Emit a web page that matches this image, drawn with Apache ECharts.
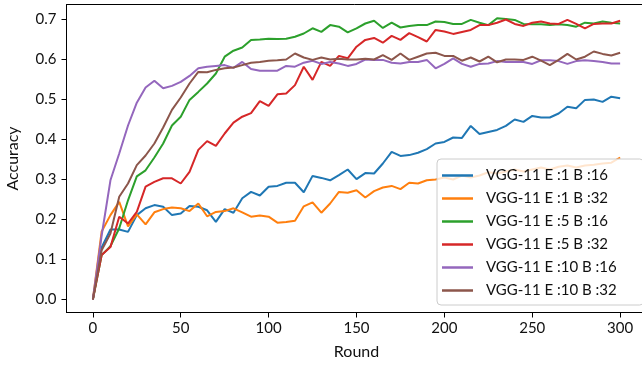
<!DOCTYPE html>
<html>
<head>
<meta charset="utf-8">
<script src="https://cdn.jsdelivr.net/npm/echarts@6/dist/echarts.min.js"></script>
<style>
html,body{margin:0;padding:0;background:#fff;}
#chart{width:642px;height:367px;}
</style>
</head>
<body>
<div id="chart"></div>
<script>
const rounds = [];
for (let r = 0; r <= 300; r += 5) rounds.push(r);

const xTicks = [0, 50, 100, 150, 200, 250, 300];
const yTicks = [0, 0.1, 0.2, 0.3, 0.4, 0.5, 0.6, 0.7];

const seriesNames = [
  'VGG-11 E :1 B :16', 'VGG-11 E :1 B :32', 'VGG-11 E :5 B :16',
  'VGG-11 E :5 B :32', 'VGG-11 E :10 B :16', 'VGG-11 E :10 B :32'
];
const colors = ['#1f77b4', '#ff7f0e', '#2ca02c', '#d62728', '#9467bd', '#8c564b'];

const e1b16 = [0, 0.13, 0.175, 0.175, 0.169, 0.211, 0.228, 0.236, 0.232, 0.211,
  0.215, 0.234, 0.232, 0.223, 0.194, 0.226, 0.217, 0.253, 0.269, 0.26,
  0.282, 0.284, 0.292, 0.292, 0.268, 0.309, 0.304, 0.298, 0.311, 0.325,
  0.301, 0.316, 0.315, 0.34, 0.369, 0.359, 0.361, 0.367, 0.376, 0.39,
  0.394, 0.405, 0.404, 0.434, 0.414, 0.419, 0.424, 0.434, 0.45, 0.444,
  0.459, 0.455, 0.455, 0.465, 0.482, 0.478, 0.499, 0.5, 0.494, 0.507, 0.503];

const e1b32 = [0, 0.17, 0.211, 0.244, 0.183, 0.213, 0.188, 0.218, 0.226, 0.23,
  0.228, 0.221, 0.24, 0.208, 0.219, 0.221, 0.228, 0.218, 0.207, 0.21,
  0.207, 0.192, 0.194, 0.197, 0.233, 0.243, 0.217, 0.24, 0.269, 0.267,
  0.273, 0.255, 0.271, 0.28, 0.284, 0.276, 0.292, 0.29, 0.298, 0.3,
  0.305, 0.3, 0.31, 0.305, 0.31, 0.318, 0.315, 0.32, 0.325, 0.32,
  0.325, 0.33, 0.325, 0.332, 0.335, 0.33, 0.335, 0.337, 0.34, 0.342, 0.355];

const e5b16 = [0, 0.111, 0.133, 0.178, 0.248, 0.308, 0.323, 0.355, 0.39, 0.435,
  0.457, 0.499, 0.519, 0.54, 0.565, 0.607, 0.622, 0.63, 0.649, 0.65,
  0.652, 0.651, 0.652, 0.657, 0.665, 0.678, 0.669, 0.686, 0.682, 0.668,
  0.678, 0.69, 0.697, 0.679, 0.692, 0.68, 0.684, 0.686, 0.686, 0.695,
  0.694, 0.689, 0.689, 0.699, 0.692, 0.686, 0.703, 0.701, 0.699, 0.689,
  0.688, 0.688, 0.686, 0.688, 0.686, 0.682, 0.692, 0.69, 0.695, 0.692, 0.69];

const e5b32 = [0, 0.111, 0.131, 0.207, 0.19, 0.219, 0.282, 0.294, 0.303, 0.303,
  0.29, 0.319, 0.374, 0.396, 0.384, 0.415, 0.442, 0.457, 0.466, 0.496,
  0.484, 0.513, 0.515, 0.536, 0.582, 0.549, 0.594, 0.584, 0.609, 0.603,
  0.632, 0.649, 0.654, 0.642, 0.659, 0.649, 0.666, 0.656, 0.645, 0.674,
  0.67, 0.664, 0.669, 0.674, 0.686, 0.686, 0.692, 0.7, 0.689, 0.684,
  0.692, 0.695, 0.69, 0.689, 0.699, 0.689, 0.678, 0.689, 0.69, 0.69, 0.697];

const e10b16 = [0, 0.16, 0.298, 0.365, 0.435, 0.492, 0.53, 0.547, 0.528, 0.534,
  0.544, 0.559, 0.578, 0.582, 0.584, 0.586, 0.579, 0.594, 0.576, 0.572,
  0.572, 0.572, 0.584, 0.582, 0.592, 0.597, 0.589, 0.594, 0.59, 0.584,
  0.589, 0.6, 0.599, 0.599, 0.592, 0.59, 0.594, 0.594, 0.599, 0.578,
  0.589, 0.603, 0.589, 0.582, 0.589, 0.59, 0.596, 0.594, 0.594, 0.594,
  0.589, 0.598, 0.598, 0.596, 0.589, 0.596, 0.598, 0.596, 0.594, 0.59, 0.59];

const e10b32 = [0, 0.123, 0.165, 0.257, 0.29, 0.336, 0.36, 0.39, 0.43, 0.474,
  0.505, 0.54, 0.569, 0.568, 0.574, 0.578, 0.58, 0.586, 0.592, 0.594,
  0.597, 0.598, 0.6, 0.615, 0.605, 0.599, 0.605, 0.6, 0.602, 0.6,
  0.6, 0.602, 0.6, 0.611, 0.599, 0.615, 0.599, 0.607, 0.615, 0.617,
  0.609, 0.609, 0.597, 0.605, 0.595, 0.607, 0.593, 0.6, 0.6, 0.599,
  0.607, 0.597, 0.586, 0.599, 0.614, 0.6, 0.607, 0.62, 0.614, 0.61, 0.617];

const allData = [e1b16, e1b32, e5b16, e5b32, e10b16, e10b32];

const FONT = 'Lato';
const chart = echarts.init(document.getElementById('chart'), null, {renderer: 'canvas'});

const series = allData.map((d, i) => ({
  name: seriesNames[i],
  type: 'line',
  data: d.map((v, j) => [rounds[j], v]),
  showSymbol: false,
  symbol: 'none',
  lineStyle: {color: colors[i], width: 2},
  itemStyle: {color: colors[i]},
  z: 2 + i,
  animation: false
}));

chart.setOption({
  animation: false,
  backgroundColor: '#fff',
  grid: {
    left: 66.5, top: 4.5, width: 580, height: 308,
    outerBoundsMode: 'none', containLabel: false,
    show: true, borderColor: '#000', borderWidth: 1, backgroundColor: 'transparent'
  },
  xAxis: {
    type: 'value', min: -15, max: 315,
    name: 'Round', nameLocation: 'middle', nameGap: 31,
    nameTextStyle: {fontFamily: FONT, fontSize: 16, color: '#111'},
    axisLine: {show: true, onZero: false, lineStyle: {color: '#000', width: 1}},
    axisTick: {show: true, length: 5, customValues: xTicks, lineStyle: {color: '#000'}},
    axisLabel: {customValues: xTicks, margin: 8, fontFamily: FONT, fontSize: 15, color: '#111'},
    splitLine: {show: false}
  },
  yAxis: {
    type: 'value', min: -0.0325, max: 0.7375,
    name: 'Accuracy', nameLocation: 'middle', nameGap: 46,
    nameTextStyle: {fontFamily: FONT, fontSize: 16, color: '#111'},
    axisLine: {show: true, onZero: false, lineStyle: {color: '#000', width: 1}},
    axisTick: {show: true, length: 5, customValues: yTicks, lineStyle: {color: '#000'}},
    axisLabel: {customValues: yTicks, margin: 10, fontFamily: FONT, fontSize: 15, color: '#111',
      formatter: v => v.toFixed(1)},
    splitLine: {show: false}
  },
  legend: {
    data: seriesNames,
    orient: 'vertical',
    left: 437, top: 159,
    padding: [9, 27, 7, 5],
    itemGap: 8,
    itemWidth: 31, itemHeight: 2.5,
    icon: 'rect',
    backgroundColor: 'rgba(255,255,255,0.8)',
    borderColor: '#cccccc', borderWidth: 1, borderRadius: 4,
    textStyle: {fontFamily: FONT, fontSize: 15, color: '#111', lineHeight: 15, padding: [0, 0, 0, 8]},
    z: 20
  },
  series: series
});
</script>
</body>
</html>
